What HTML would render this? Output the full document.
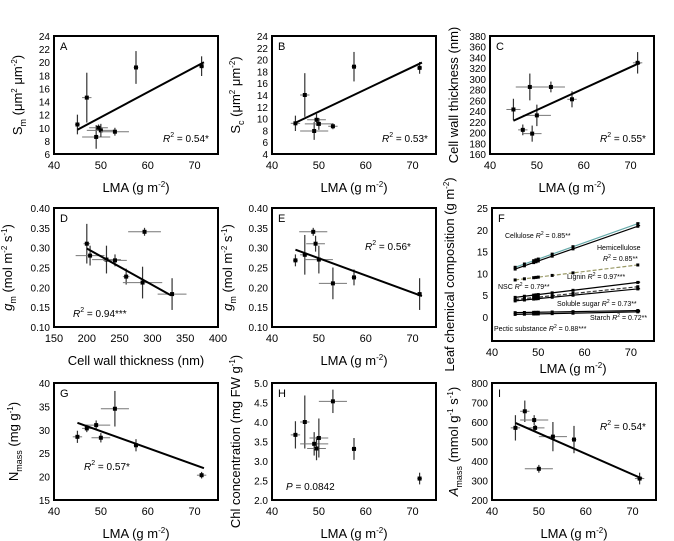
<!DOCTYPE html>
<html><head><meta charset="utf-8"><style>
body{margin:0;background:#fff;}
svg{display:block;font-family:"Liberation Sans",sans-serif;}
</style></head><body>
<svg id="fig" width="674" height="541" viewBox="0 0 674 541"></svg>
<script>
// Panel A
const aX=[45,47,49,49.5,50,53,57.5,71.5];
const aY=[10.5,14.6,8.6,10,9.6,9.4,19.2,19.4];
const aYe=[1.5,3.8,1.8,0.5,1,0.6,2.5,1.5];
const aXe=[0.5,1,3,2,3,3,0.5,0.5];
const aLine=[[45,9.7],[72,20]];
// Panel B
const bX=[45,47,49,49.5,50,53,57.5,71.5];
const bY=[9.2,14,7.9,9.8,9.1,8.7,18.8,18.6];
const bYe=[1.3,3.7,1.5,1,1,0.5,2.5,1];
const bXe=[1,1,3,2,3,1,0.5,0.5];
const bLine=[[45,9.3],[72,19.5]];
// Panel C
const cX=[45,47,48.5,49,50,53,57.5,71.5];
const cY=[243,205,285,198,232,285,262,330];
const cYe=[20,10,25,15,20,10,15,20];
const cXe=[1.5,1,3,2,3,3,1,1];
const cLine=[[45,222],[72,330]];
// Panel D
const dX=[200,205,230,243,260,285,288,330];
const dY=[0.31,0.28,0.27,0.268,0.227,0.212,0.34,0.183];
const dYe=[0.05,0.025,0.035,0.015,0.02,0.04,0.01,0.04];
const dXe=[5,22,22,18,5,30,25,22];
const dLine=[[200,0.298],[328,0.18]];
// Panel E
const eX=[45,47,48.8,49.3,50,53,57.5,71.5];
const eY=[0.268,0.282,0.34,0.31,0.27,0.21,0.225,0.183];
const eYe=[0.015,0.05,0.01,0.02,0.035,0.04,0.02,0.04];
const eXe=[0.5,1,3,2,3,3,0.5,0.5];
const eLine=[[45,0.295],[72,0.178]];
// Panel F
const fNames=["Cellulose","Cellulose2","Hemicellulose","Lignin","NSC","Soluble sugar","Starch","Pectic"];
const fStart=[11,11.4,8.5,4.5,4,3.7,1,0.6];
const fEnd=[21,21.6,12,8,7,6.5,1.5,1.2];
const fPX=[45,47,49,49.5,50,53,57.5,71.5];
// Panel G
const gX=[45,47,49,50,53,57.5,71.5];
const gY=[28.5,30.3,31,28.3,34.5,26.7,20.3];
const gYe=[1.3,0.8,1,1,3.8,1.3,0.7];
const gXe=[1,1,3,2,3,0.5,1];
const gLine=[[45,31.5],[72,21.8]];
// Panel H
const hX=[45,47,49,49.5,50,53,57.5,71.5];
const hY=[3.67,4.0,3.44,3.32,3.59,4.53,3.31,2.55];
const hYe=[0.35,0.68,0.3,0.3,0.5,0.3,0.28,0.15];
const hXe=[1,1,3,2,2,3,0.5,0.5];
// Panel I
const iX=[45,47,49,49.2,50,53,57.5,71.5];
const iY=[570,655,610,570,360,525,510,310];
const iYe=[65,55,25,15,20,75,70,30];
const iXe=[1,1,3,2,3,3,0.5,1];
const iLine=[[45,595],[72,310]];

const svg=document.getElementById('fig');
const NS='http://www.w3.org/2000/svg';
function mk(tag,attrs,parent){const e=document.createElementNS(NS,tag);for(const k in attrs)e.setAttribute(k,attrs[k]);(parent||svg).appendChild(e);return e;}
function txt(x,y,s,parent,extra){const t=mk('text',Object.assign({x:x,y:y,'font-size':11,fill:'#000'},extra||{}),parent);t.innerHTML=s;return t;}

function panel(id,L,T,W,H,xd,yd,xt,yt,ylabel,xlabel,ylabX,fmt,xlOff){
  const g=mk('g',{});
  
  
  const sx=v=>L+(v-xd[0])/(xd[1]-xd[0])*W;
  const sy=v=>T+H-(v-yd[0])/(yd[1]-yd[0])*H;
  const box=mk('rect',{x:L,y:T,width:W,height:H,fill:'none',stroke:'#000','stroke-width':2},g);
  
  
  xt.forEach(v=>{const t=txt(sx(v),T+H+15,v,g,{'text-anchor':'middle'});
    
    });
  yt.forEach(v=>{const t=txt(L-4,sy(v)+4,fmt?fmt(v):v,g,{'text-anchor':'end','font-size':10});
    
    });
  const yl=txt(ylabX,T+H/2,ylabel,g,{'text-anchor':'middle','font-size':13,transform:'rotate(-90 '+ylabX+' '+(T+H/2)+')'});
  
  
  const xl=txt(L+W/2,T+H+(xlOff||38),xlabel,g,{'text-anchor':'middle','font-size':13});
  
  
  const lab=txt(L+6,T+14,id,g,{'font-size':11});
  
  
  return {g,sx,sy};
}
function points(p,X,Y,Xe,Ye){
  X.forEach((x,i)=>{
    const cx=p.sx(x),cy=p.sy(Y[i]);
    mk('line',{x1:p.sx(x-Xe[i]),x2:p.sx(x+Xe[i]),y1:cy,y2:cy,stroke:'#777','stroke-width':1},p.g);
    mk('line',{x1:cx,x2:cx,y1:p.sy(Y[i]-Ye[i]),y2:p.sy(Y[i]+Ye[i]),stroke:'#333','stroke-width':1.2},p.g);
    const r=mk('rect',{x:cx-2,y:cy-2,width:4,height:4,fill:'#000'},p.g);
    
    
  });
}
function fit(p,Ln){
  const l=mk('line',{x1:p.sx(Ln[0][0]),y1:p.sy(Ln[0][1]),x2:p.sx(Ln[1][0]),y2:p.sy(Ln[1][1]),stroke:'#000','stroke-width':2},p.g);
  
  
}
const lmaT=[40,50,60,70];
const LMA='LMA (g m<tspan dy="-5" font-size="8">-2</tspan><tspan dy="5">)</tspan>';

let p=panel('A',54,36,164,118,[40,75],[6,24],lmaT,[6,8,10,12,14,16,18,20,22,24],'S<tspan dy="4" font-size="9">m</tspan><tspan dy="-4"> (μm</tspan><tspan dy="-5" font-size="8">2</tspan><tspan dy="5"> μm</tspan><tspan dy="-5" font-size="8">-2</tspan><tspan dy="5">)</tspan>',LMA,22);
points(p,aX,aY,aXe,aYe);fit(p,aLine);
txt(163,142,'<tspan font-style="italic">R</tspan><tspan dy="-5" font-size="7">2</tspan><tspan dy="5"> = 0.54*</tspan>',p.g,{'font-size':10});

p=panel('B',272,36,164,118,[40,75],[4,24],lmaT,[4,6,8,10,12,14,16,18,20,22,24],'S<tspan dy="4" font-size="9">c</tspan><tspan dy="-4"> (μm</tspan><tspan dy="-5" font-size="8">2</tspan><tspan dy="5"> μm</tspan><tspan dy="-5" font-size="8">-2</tspan><tspan dy="5">)</tspan>',LMA,240);
points(p,bX,bY,bXe,bYe);fit(p,bLine);
txt(382,142,'<tspan font-style="italic">R</tspan><tspan dy="-5" font-size="7">2</tspan><tspan dy="5"> = 0.53*</tspan>',p.g,{'font-size':10});

p=panel('C',490,36,164,118,[40,75],[160,380],lmaT,[160,180,200,220,240,260,280,300,320,340,360,380],'Cell wall thickness (nm)',LMA,458);
points(p,cX,cY,cXe,cYe);fit(p,cLine);
txt(600,142,'<tspan font-style="italic">R</tspan><tspan dy="-5" font-size="7">2</tspan><tspan dy="5"> = 0.55*</tspan>',p.g,{'font-size':10});

const f2=v=>v.toFixed(2);
const GM='<tspan font-style="italic">g</tspan><tspan dy="4" font-size="9">m</tspan><tspan dy="-4"> (mol m</tspan><tspan dy="-5" font-size="8">-2</tspan><tspan dy="5"> s</tspan><tspan dy="-5" font-size="8">-1</tspan><tspan dy="5">)</tspan>';
p=panel('D',54,208,164,119,[150,400],[0.1,0.4],[150,200,250,300,350,400],[0.1,0.15,0.2,0.25,0.3,0.35,0.4],GM,'Cell wall thickness (nm)',12,f2);
points(p,dX,dY,dXe,dYe);fit(p,dLine);
txt(73,317,'<tspan font-style="italic">R</tspan><tspan dy="-5" font-size="7">2</tspan><tspan dy="5"> = 0.94***</tspan>',p.g,{'font-size':10});

p=panel('E',272,208,164,119,[40,75],[0.1,0.4],lmaT,[0.1,0.15,0.2,0.25,0.3,0.35,0.4],GM,LMA,232,f2);
points(p,eX,eY,eXe,eYe);fit(p,eLine);
txt(365,250,'<tspan font-style="italic">R</tspan><tspan dy="-5" font-size="7">2</tspan><tspan dy="5"> = 0.56*</tspan>',p.g,{'font-size':10});

p=panel('F',492,208,162,133,[40,75],[-5.5,25],lmaT,[0,5,10,15,20,25],'Leaf chemical composition (g m<tspan dy="-5" font-size="8">-2</tspan><tspan dy="5">)</tspan>',LMA,454,null,32);
const fCols=['#000','#6aa','#996','#000','#333','#000','#000','#000'];
fNames.forEach((n,i)=>{
  const l=mk('line',{x1:p.sx(45),y1:p.sy(fStart[i]),x2:p.sx(72),y2:p.sy(fEnd[i]),stroke:fCols[i],'stroke-width':1.2,'stroke-dasharray':(i==2||i==4)?'4 2':'none'},p.g);
  
  
  fPX.forEach(x=>{const y=fStart[i]+(fEnd[i]-fStart[i])*(x-45)/27;
    mk('rect',{x:p.sx(x)-1.5,y:p.sy(y)-1.5,width:3,height:3,fill:'#000'},p.g);});
});
const fs={'font-size':7};
txt(505,238,'Cellulose <tspan font-style="italic">R</tspan><tspan dy="-3" font-size="5">2</tspan><tspan dy="3"> = 0.85**</tspan>',p.g,fs);
txt(597,250,'Hemicellulose',p.g,fs);
txt(603,261,'<tspan font-style="italic">R</tspan><tspan dy="-3" font-size="5">2</tspan><tspan dy="3"> = 0.85**</tspan>',p.g,fs);
txt(567,279,'Lignin <tspan font-style="italic">R</tspan><tspan dy="-3" font-size="5">2</tspan><tspan dy="3"> = 0.97***</tspan>',p.g,fs);
txt(498,289,'NSC <tspan font-style="italic">R</tspan><tspan dy="-3" font-size="5">2</tspan><tspan dy="3"> = 0.79**</tspan>',p.g,fs);
txt(557,306,'Soluble sugar <tspan font-style="italic">R</tspan><tspan dy="-3" font-size="5">2</tspan><tspan dy="3"> = 0.73**</tspan>',p.g,fs);
txt(590,320,'Starch <tspan font-style="italic">R</tspan><tspan dy="-3" font-size="5">2</tspan><tspan dy="3"> = 0.72**</tspan>',p.g,fs);
txt(494,331,'Pectic substance <tspan font-style="italic">R</tspan><tspan dy="-3" font-size="5">2</tspan><tspan dy="3"> = 0.88***</tspan>',p.g,fs);

p=panel('G',54,383,164,117,[40,75],[15,40],lmaT,[15,20,25,30,35,40],'N<tspan dy="4" font-size="9">mass</tspan><tspan dy="-4"> (mg g</tspan><tspan dy="-5" font-size="8">-1</tspan><tspan dy="5">)</tspan>',LMA,18);
points(p,gX,gY,gXe,gYe);fit(p,gLine);
txt(84,470,'<tspan font-style="italic">R</tspan><tspan dy="-5" font-size="7">2</tspan><tspan dy="5"> = 0.57*</tspan>',p.g,{'font-size':10});

p=panel('H',272,383,164,117,[40,75],[2,5],lmaT,[2,2.5,3,3.5,4,4.5,5],'Chl concentration (mg FW g<tspan dy="-5" font-size="8">-1</tspan><tspan dy="5">)</tspan>',LMA,240,v=>v.toFixed(1));
points(p,hX,hY,hXe,hYe);
txt(286,490,'<tspan font-style="italic">P</tspan> = 0.0842',p.g,{'font-size':10});

p=panel('I',492,383,164,117,[40,75],[200,800],lmaT,[200,300,400,500,600,700,800],'<tspan font-style="italic">A</tspan><tspan dy="4" font-size="9">mass</tspan><tspan dy="-4"> (mmol g</tspan><tspan dy="-5" font-size="8">-1</tspan><tspan dy="5"> s</tspan><tspan dy="-5" font-size="8">-1</tspan><tspan dy="5">)</tspan>',LMA,458);
points(p,iX,iY,iXe,iYe);fit(p,iLine);
txt(600,430,'<tspan font-style="italic">R</tspan><tspan dy="-5" font-size="7">2</tspan><tspan dy="5"> = 0.54*</tspan>',p.g,{'font-size':10});
</script>
</body></html>
